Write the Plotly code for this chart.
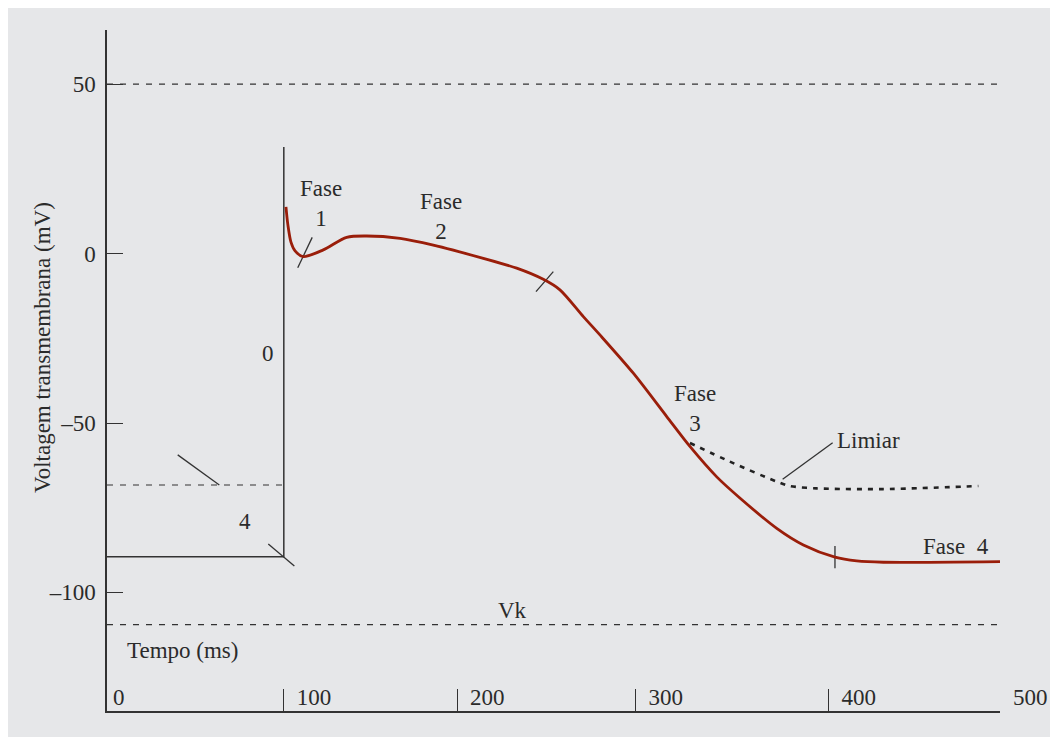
import plotly.graph_objects as go

# ---------------- data (ms, mV) ----------------
time_ap = [100.2, 101.3, 103.0, 105.3, 109.9, 121.1, 134.2, 145.4, 164.1, 182.7,
           210.7, 229.4, 244.3, 253.6, 266.7, 276.0, 294.7, 313.4, 326.5, 341.4,
           354.5, 375.0, 389.9, 407.6, 419.8, 434.7, 500.0]
volt_ap = [13.8, 8.4, 3.4, 0.8, -0.9, 1.1, 4.8, 5.2, 4.5, 2.5,
           -1.4, -4.3, -7.6, -10.7, -18.6, -24.0, -35.3, -48.1, -57.0, -65.9,
           -72.2, -81.1, -86.0, -89.6, -90.7, -91.1, -90.9]

time_thr = [326.4, 348.8, 375.0, 382.4, 397.4, 434.7, 487.9]
volt_thr = [-55.9, -61.4, -67.3, -68.6, -69.3, -69.5, -68.6]

v_top = 50
v_thr_rest = -68.3
v_k = -109.5
v_rest = -89.5
t_start = 0
t_end = 500
t_upstroke = 99
v_upstroke_top = 31.5

# small marker strokes (phase boundaries and pointers)
marks = [
    ([39.6, 62.9], [-59.4, -68.3]),     # pointer to threshold at rest
    ([90.3, 104.9], [-85.7, -92.2]),    # phase 4 / 0 boundary
    ([106.8, 114.9], [-4.2, 4.8]),      # phase 1
    ([240.2, 249.9], [-11.2, -5.3]),    # phase 2 / 3 boundary
    ([407.6, 407.6], [-86.3, -92.9]),   # phase 3 / 4 boundary
    ([378.3, 406.3], [-66.6, -55.8]),   # pointer to "Limiar"
]

x_tick_pos = [0, 99, 196, 296, 404, 500]
x_tick_text = ["0", "100", "200", "300", "400", "500"]
y_tick_pos = [50, 0, -50, -100]
y_tick_text = ["50", "0", "–50", "–100"]

labels = [
    ("Fase<br>1", 119.8, 14.8, "center"),
    ("Fase<br>2", 187.0, 11.1, "center"),
    ("Fase<br>3", 329.2, -45.6, "center"),
    ("Limiar", 407.6, -55.2, "left"),
    ("Fase\u00a0 4", 475.4, -86.3, "center"),
    ("0", 90.1, -29.6, "center"),
    ("4", 77.3, -79.2, "center"),
    ("Vk", 227.3, -105.3, "center"),
    ("Tempo (ms)", 10.1, -117.0, "left"),
]

# ---------------- style ----------------
BG = "#e6e7e9"
INK = "#2b2b2b"
LINE = "#333333"
RED = "#9a1e0a"
FONT = "Liberation Serif, Times New Roman, serif"
FS = 23

fig = go.Figure()

dash_thin = dict(color=LINE, width=1.2, dash="6px,7px")
for xs, ys in [([t_start, t_end], [v_top, v_top]),
               ([t_start, t_upstroke], [v_thr_rest, v_thr_rest]),
               ([t_start, t_end], [v_k, v_k])]:
    fig.add_trace(go.Scatter(x=xs, y=ys, mode="lines", line=dash_thin,
                             hoverinfo="skip", showlegend=False))

# resting line and upstroke
fig.add_trace(go.Scatter(x=[t_start, t_upstroke, t_upstroke],
                         y=[v_rest, v_rest, v_upstroke_top],
                         mode="lines", line=dict(color=LINE, width=1.5),
                         hoverinfo="skip", showlegend=False))

for xs, ys in marks:
    fig.add_trace(go.Scatter(x=xs, y=ys, mode="lines",
                             line=dict(color=LINE, width=1.3),
                             hoverinfo="skip", showlegend=False))

# threshold curve
fig.add_trace(go.Scatter(x=time_thr, y=volt_thr, mode="lines",
                         line=dict(color="#222222", width=2.6, dash="5px,6px",
                                   shape="spline", smoothing=0.8),
                         hoverinfo="skip", showlegend=False))

# action potential
fig.add_trace(go.Scatter(x=time_ap, y=volt_ap, mode="lines",
                         line=dict(color=RED, width=2.8, shape="spline", smoothing=0.8),
                         hoverinfo="skip", showlegend=False))

annotations = []
for text, x, y, anchor in labels:
    annotations.append(dict(text=text, x=x, y=y, xref="x", yref="y",
                            xanchor=anchor, yanchor="middle", showarrow=False,
                            font=dict(family=FONT, size=FS, color=INK)))
annotations.append(dict(text="Voltagem transmembrana (mV)", textangle=-90,
                        x=-0.0728, y=0.5345, xref="paper", yref="paper",
                        xanchor="center", yanchor="middle", showarrow=False,
                        font=dict(family=FONT, size=FS, color=INK)))

fig.update_layout(
    width=1058, height=737,
    margin=dict(l=99, r=66, t=22, b=34),
    paper_bgcolor=BG, plot_bgcolor=BG,
    font=dict(family=FONT, size=FS, color=INK),
    annotations=annotations,
)

fig.update_xaxes(range=[t_start, t_end], showgrid=False, zeroline=False,
                 showline=True, linecolor=LINE, linewidth=1.5,
                 tickmode="array", tickvals=x_tick_pos,
                 ticktext=["\u2009" + x_tick_text[0]] + ["\u2002" + t for t in x_tick_text[1:]],
                 ticks="inside", ticklen=22, tickcolor=LINE, tickwidth=1.3,
                 ticklabelposition="inside right", ticklabeloverflow="allow",
                 tickfont=dict(family=FONT, size=FS, color=INK))
fig.update_yaxes(range=[-135, 66], showgrid=False, zeroline=False,
                 showline=True, linecolor=LINE, linewidth=1.5,
                 tickmode="array", tickvals=y_tick_pos, ticktext=y_tick_text,
                 ticks="inside", ticklen=16, tickcolor=LINE, tickwidth=1.3,
                 ticklabelstandoff=5,
                 tickfont=dict(family=FONT, size=FS, color=INK))

fig.write_html("out.html")
